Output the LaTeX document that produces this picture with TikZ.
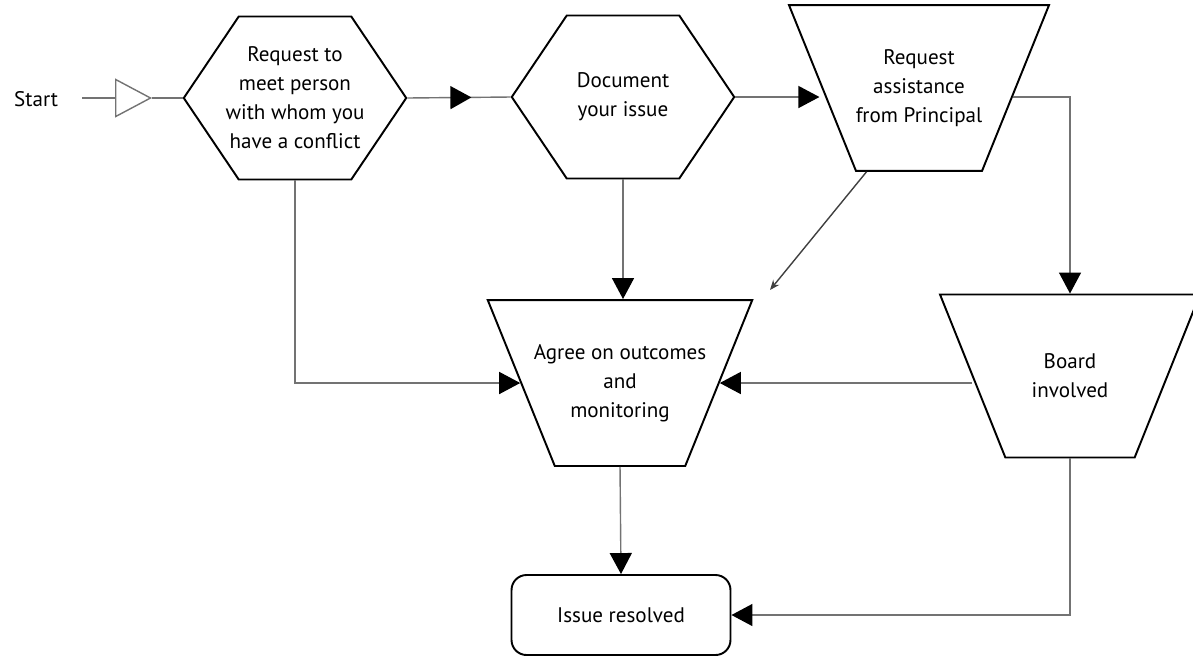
\documentclass[tikz,border=0pt]{standalone}
\usepackage{fontspec}
\setmainfont{PT Sans}
\usetikzlibrary{decorations.markings,shapes.geometric,shapes.symbols,arrows.meta,positioning}

\begin{document}
\begin{tikzpicture}[x=0.02cm,y=-0.02cm,
    font=\fontsize{12}{16.5}\selectfont,
    hexa/.style={draw,line width=1.1pt,signal,signal to=west and east,signal pointer angle=112,
        minimum width=4.45cm,minimum height=3.26cm,inner xsep=-0.4cm,inner ysep=0pt,align=center},
    trap/.style={draw,line width=1.1pt,trapezium,trapezium angle=68,shape border rotate=180,
        trapezium stretches body=true,minimum width=5.2cm,minimum height=3.26cm,inner xsep=-0.42cm,inner ysep=#1,align=center},
    trap/.default=0.885cm,
    link/.style={draw=black!55,line width=0.8pt},
    headend/.style={-{Triangle[length=0.42cm,width=0.44cm,black]}},
    midhead/.style={decoration={markings,mark=at position #1 with {\arrow{Triangle[length=0.42cm,width=0.46cm,black]}}},
        postaction={decorate}}
    ] 
    \useasboundingbox (0,0) rectangle (1193,657);
    \clip (0,0) rectangle (1193,657);
    \node[anchor=west] (start) at (8,99) {Start};
    \node[hexa] (meet) at (295,98) {Request to\\meet person\\with whom you\\have a conflict};
    \node[hexa] (doc) at (623,97) {Document\\your issue};
    \node[trap] (req) at (919,88) {Request\\assistance\\from Principal};
    \node[trap] (agree) at (620,383) {Agree on outcomes\\and\\monitoring};
    \node[trap=1.175cm] (board) at (1070,376) {Board\\involved};
    \node[draw,line width=1.1pt,rounded corners=0.3cm,minimum width=4.38cm,minimum height=1.6cm] (issue) at (621,615) {Issue resolved};
    \coordinate (startout) at (82,98);
    \coordinate (trip) at (152,98);
    \coordinate (diagend) at (770,290);
    %\node at (trip)[circle,fill,inner sep=1pt]{};
\begin{scope}[link]
    \draw[-{Triangle[open,length=0.74cm,width=0.78cm,black!55]}] (startout) -- (trip);
    \draw (trip) -- (meet.west);
    \draw[midhead=0.62] (meet.east) -- (doc.west);
    \draw[headend] (doc.east) -- ([xshift=-0.04cm]doc.east -| req.west);
    \draw[headend] (doc.south) -- (doc.south |- agree.north);
    \draw[headend] ([xshift=-0.08cm]req.east |- doc.east) -| (board.north);
    \draw[draw=black!75,-{Stealth[length=0.2cm,width=0.16cm]}] ([xshift=-1.05cm]req.south) -- (diagend);
    \draw[headend] (meet.south) |- (agree.west);
    \draw[headend] (agree.east -| board.west) -- (agree.east);
    \draw[headend] (agree.south) -- (issue.north);
    \draw[headend] (board.south) |- (issue.east);
\end{scope}
\end{tikzpicture}
\end{document}
